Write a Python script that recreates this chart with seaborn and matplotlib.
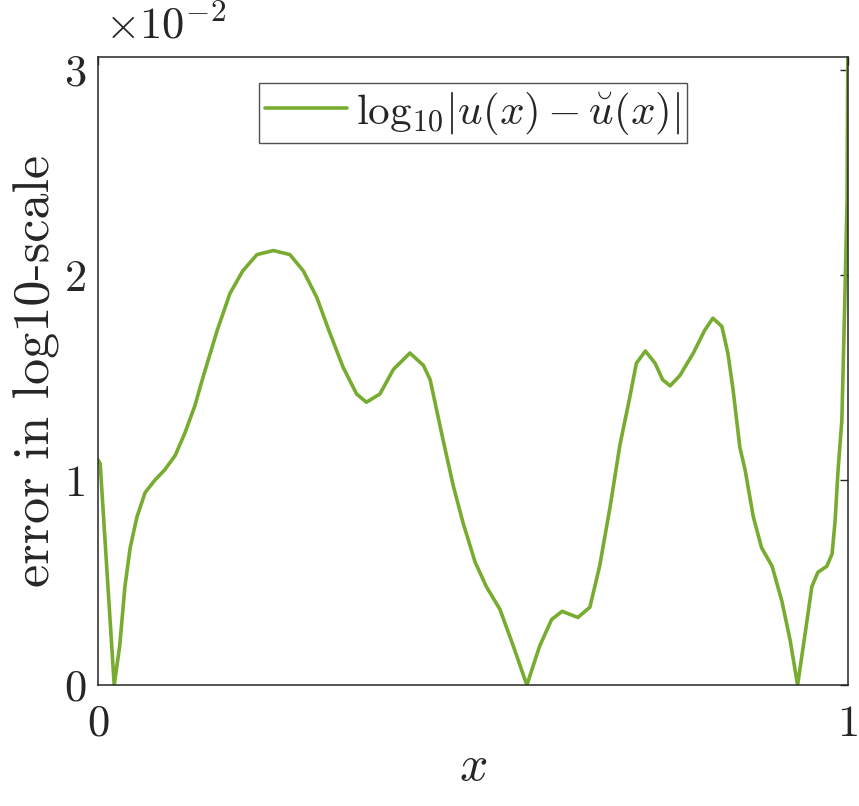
import numpy as np
import pandas as pd
import matplotlib
matplotlib.use("Agg")
import matplotlib.pyplot as plt
import seaborn as sns

# values (error in units of 1e-2)
x_vals = [0.0, 0.003, 0.0217, 0.029, 0.036, 0.043, 0.052, 0.063, 0.076, 0.089,
          0.103, 0.116, 0.129, 0.14, 0.159, 0.176, 0.193, 0.212, 0.234, 0.256,
          0.274, 0.292, 0.309, 0.327, 0.345, 0.358, 0.376, 0.394, 0.416, 0.434,
          0.443, 0.46, 0.474, 0.487, 0.503, 0.518, 0.536, 0.553, 0.572, 0.589,
          0.605, 0.619, 0.64, 0.656, 0.669, 0.683, 0.696, 0.709, 0.718, 0.73,
          0.743, 0.753, 0.763, 0.776, 0.794, 0.809, 0.82, 0.832, 0.84, 0.847,
          0.856, 0.863, 0.874, 0.885, 0.899, 0.912, 0.923, 0.933, 0.943, 0.952,
          0.96, 0.972, 0.979, 0.983, 0.987, 0.992, 0.996, 0.999, 1.0]
err_vals = [1.10, 1.08, 0.0, 0.19, 0.48, 0.67, 0.82, 0.94, 1.00, 1.05,
            1.12, 1.23, 1.36, 1.50, 1.73, 1.91, 2.02, 2.10, 2.12, 2.10,
            2.02, 1.89, 1.72, 1.55, 1.42, 1.38, 1.42, 1.54, 1.62, 1.56,
            1.49, 1.20, 0.97, 0.79, 0.60, 0.48, 0.37, 0.20, 0.0, 0.19,
            0.32, 0.36, 0.33, 0.38, 0.58, 0.87, 1.17, 1.40, 1.57, 1.63,
            1.57, 1.49, 1.46, 1.51, 1.62, 1.73, 1.79, 1.75, 1.62, 1.44,
            1.16, 1.05, 0.82, 0.67, 0.58, 0.41, 0.22, 0.0, 0.25, 0.48,
            0.55, 0.58, 0.64, 0.80, 1.05, 1.29, 1.88, 2.37, 3.10]
scale = 1e-2
y_ticks = [0, 1, 2, 3]
x_ticks = [0, 1]

df = pd.DataFrame({"x": x_vals, "err": np.array(err_vals) * scale})

sns.set_theme(style="white")
plt.rcParams["font.family"] = ["cmr10", "DejaVu Serif"]
plt.rcParams["mathtext.fontset"] = "cm"
plt.rcParams["axes.formatter.use_mathtext"] = True

fig = plt.figure(figsize=(8.59, 8.06), dpi=100)
ax = fig.add_axes([0.114, 0.150, 0.873, 0.779])

# \check renders badly in mathtext's cm set, \breve is the closest clean accent
sns.lineplot(data=df, x="x", y="err", sort=False, estimator=None,
             color="#77AC30", linewidth=2.6, ax=ax,
             label=r"$\mathrm{log}_{10}|u(x)-\breve{u}(x)|$")

ax.set_xlim(0, 1)
ax.set_ylim(0, 3.063 * scale)
ax.set_xticks(x_ticks)
ax.set_xticklabels([str(t) for t in x_ticks])
ax.set_yticks([t * scale for t in y_ticks])
ax.set_yticklabels([str(t) for t in y_ticks])

for s in ax.spines.values():
    s.set_color("#262626")
    s.set_linewidth(1.1)
ax.tick_params(direction="in", length=6, width=1.0, colors="#262626",
               labelsize=32, top=True, right=True, pad=8)
ax.tick_params(axis="x", pad=14)

ax.set_xlabel(r"$x$", fontsize=36, color="#262626", labelpad=0)
ax.set_ylabel("error in log10-scale", fontsize=37.5, color="#262626", labelpad=3)

fig.text(0.122, 0.952, r"$\times10^{-2}$", fontsize=32, color="#262626",
         ha="left", va="baseline")

leg = ax.legend(loc="upper center", fontsize=31, frameon=True, fancybox=False,
                edgecolor="#262626", handlelength=1.9, handletextpad=0.2,
                borderpad=0.15, borderaxespad=0.6)
leg.get_frame().set_linewidth(1.0)

fig.savefig("out.png", dpi=100)
